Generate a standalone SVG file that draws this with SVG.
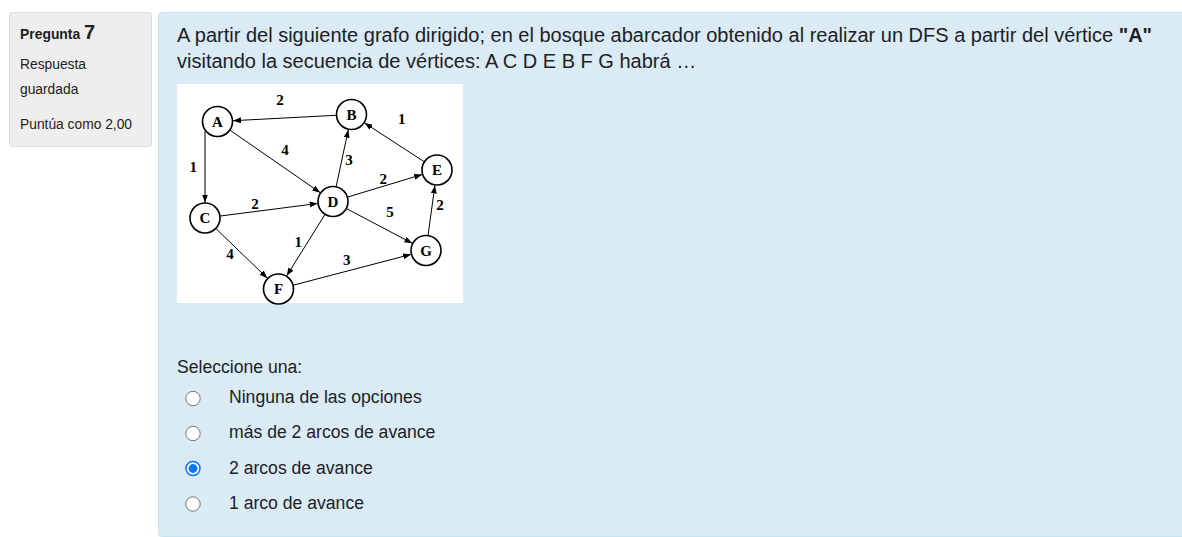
<svg xmlns="http://www.w3.org/2000/svg" width="1182" height="537" viewBox="0 0 1182 537">
<style>
.ui{font-family:Arial,"Liberation Sans",sans-serif;fill:#1d2125}
.q{font-size:17.6px}
.qt{font-size:20px}
.side{font-size:13.8px}
.node circle{fill:#fff;stroke:#000;stroke-width:1.6}
.node text{font-family:"Liberation Serif","Times New Roman",serif;font-weight:bold;font-size:15px;text-anchor:middle;fill:#000}
.edges line{stroke:#000;stroke-width:1;marker-end:url(#ah)}
.lbl{font-family:"Liberation Serif","Times New Roman",serif;font-weight:bold;font-size:15px;text-anchor:middle;fill:#000}
.rb{fill:#fff;stroke:#767676;stroke-width:1}
</style>
<defs>
<marker id="ah" markerUnits="userSpaceOnUse" markerWidth="8" markerHeight="6" refX="8" refY="3" orient="auto">
<path d="M0,0 L8,3 L0,6 z" fill="#000"/>
</marker>
</defs>
<rect width="1182" height="537" fill="#fff"/>
<g id="info">
<rect x="9.5" y="12.5" width="142" height="134" rx="2" fill="#eee" stroke="#dcdcdc"/>
<text class="ui" x="20" y="39" font-size="13.9px" font-weight="bold">Pregunta <tspan font-size="20px">7</tspan></text>
<text class="ui side" x="20" y="69">Respuesta</text>
<text class="ui side" x="20" y="94">guardada</text>
<text class="ui side" x="20" y="129">Puntúa como 2,00</text>
</g>
<g id="formulation">
<rect x="158.5" y="12.5" width="1030" height="524" rx="3" fill="#daebf5" stroke="#c8e3f0"/>
<text class="ui qt" x="177" y="42">A partir del siguiente grafo dirigido; en el bosque abarcador obtenido al realizar un DFS a partir del vértice <tspan font-weight="bold">"A"</tspan></text>
<text class="ui qt" x="177" y="68">visitando la secuencia de vértices: A C D E B F G habrá …</text>
<rect x="177" y="84" width="286" height="219" fill="#fff"/>
</g>
<g class="edges">
<line x1="336" y1="115.3" x2="233" y2="120.7"/>
<line x1="424" y1="161.6" x2="364.5" y2="122.9"/>
<line x1="205" y1="131" x2="205" y2="202.5"/>
<line x1="230.2" y1="130.3" x2="320.3" y2="192.7"/>
<line x1="336.2" y1="186.3" x2="348.3" y2="129.7"/>
<line x1="347.8" y1="197" x2="422.2" y2="174.5"/>
<line x1="220.4" y1="216" x2="317.6" y2="203.5"/>
<line x1="346.7" y1="208.7" x2="412.3" y2="243.3"/>
<line x1="428.1" y1="235.1" x2="434.9" y2="185.4"/>
<line x1="324.8" y1="214.7" x2="286.7" y2="275.8"/>
<line x1="216.1" y1="228.8" x2="267.4" y2="278.2"/>
<line x1="293.5" y1="285.1" x2="411" y2="254.4"/>
<text class="lbl" x="280" y="105">2</text>
<text class="lbl" x="401.7" y="123.5">1</text>
<text class="lbl" x="285" y="155">4</text>
<text class="lbl" x="193.3" y="171.5">1</text>
<text class="lbl" x="349" y="165">3</text>
<text class="lbl" x="383.3" y="183.5">2</text>
<text class="lbl" x="255" y="208.5">2</text>
<text class="lbl" x="390" y="216.5">5</text>
<text class="lbl" x="440" y="210">2</text>
<text class="lbl" x="298.3" y="246.5">1</text>
<text class="lbl" x="230" y="258.5">4</text>
<text class="lbl" x="346.7" y="265">3</text>
</g>
<g id="nA" class="node"><circle cx="217.5" cy="121.5" r="15"/><text x="217.5" y="126.8">A</text></g>
<g id="nB" class="node"><circle cx="351.5" cy="114.5" r="15"/><text x="351.5" y="119.8">B</text></g>
<g id="nE" class="node"><circle cx="437" cy="170" r="15"/><text x="437" y="175.3">E</text></g>
<g id="nD" class="node"><circle cx="333" cy="201.5" r="15"/><text x="333" y="206.8">D</text></g>
<g id="nC" class="node"><circle cx="205" cy="218" r="15"/><text x="205" y="223.3">C</text></g>
<g id="nG" class="node"><circle cx="426" cy="250.5" r="15"/><text x="426" y="255.8">G</text></g>
<g id="nF" class="node"><circle cx="278.5" cy="289" r="15"/><text x="278.5" y="294.3">F</text></g>
<g id="answers">
<text class="ui q" x="177" y="373">Seleccione una:</text>
<circle class="rb" cx="193" cy="398.5" r="7.2"/>
<text class="ui q" x="229" y="403">Ninguna de las opciones</text>
<circle class="rb" cx="193" cy="433.5" r="7.2"/>
<text class="ui q" x="229" y="438">más de 2 arcos de avance</text>
<circle cx="193" cy="468.5" r="7" fill="#fff" stroke="#0075ff" stroke-width="1.5"/>
<circle cx="193" cy="468.5" r="4.4" fill="#0075ff"/>
<text class="ui q" x="229" y="473.5">2 arcos de avance</text>
<circle class="rb" cx="193" cy="504" r="7.2"/>
<text class="ui q" x="229" y="508.5">1 arco de avance</text>
</g>
</svg>
